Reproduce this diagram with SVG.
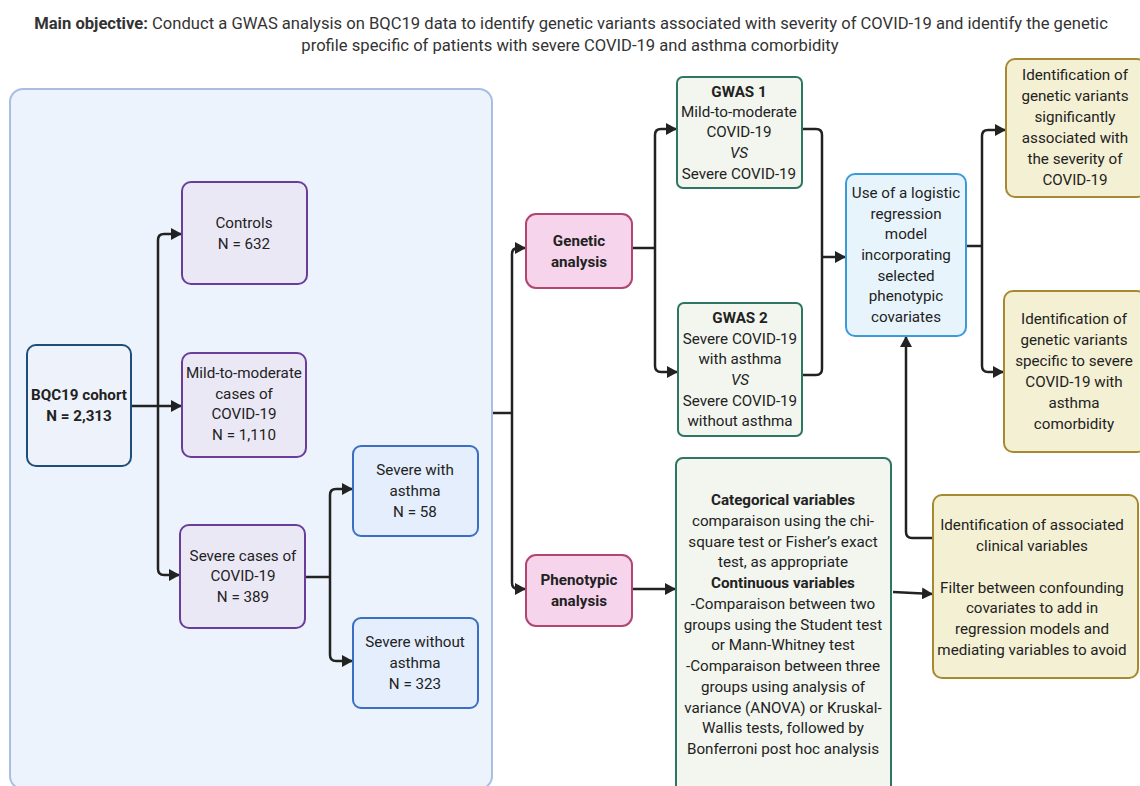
<svg xmlns="http://www.w3.org/2000/svg" width="1140" height="786" viewBox="0 0 1140 786">
<defs>
<marker id="ah" markerUnits="userSpaceOnUse" markerWidth="12" markerHeight="12" refX="11" refY="6" orient="auto">
<path d="M0,0 L11,6 L0,12 z" fill="#222"/>
</marker>
<style>
text{font-family:Roboto,"Liberation Sans",sans-serif;font-size:15.2px;fill:#222;text-anchor:middle}
.b{font-weight:bold}
.i{font-style:italic}
.title{font-size:16.6px;fill:#333}
.cont{fill:#edf3fc;stroke:#a8bee3;stroke-width:2}
.cohort{fill:#eef2fb;stroke:#1f4e79;stroke-width:2}
.purple{fill:#ebe8f6;stroke:#6a3d9a;stroke-width:2}
.blue{fill:#e4eefc;stroke:#3a6fc4;stroke-width:2}
.pink{fill:#f6d5ec;stroke:#b3466f;stroke-width:2}
.green{fill:#f2f6ef;stroke:#2e7563;stroke-width:2}
.lblue{fill:#e8f4fc;stroke:#3b9ad9;stroke-width:2}
.yellow{fill:#f4f0d3;stroke:#a58a2f;stroke-width:2}
.c{fill:none;stroke:#222;stroke-width:2.5}
.a{marker-end:url(#ah)}
</style>
</defs>
<rect width="1140" height="786" fill="#ffffff"/>
<g id="title">
<text class="title" x="571" y="29"><tspan class="b">Main objective:</tspan> Conduct a GWAS analysis on BQC19 data to identify genetic variants associated with severity of COVID-19 and identify the genetic</text>
<text class="title" x="570" y="51">profile specific of patients with severe COVID-19 and asthma comorbidity</text>
</g>
<g id="container"><rect class="cont" x="10" y="89" width="482" height="700" rx="13"/></g>
<g id="connectors">
<path class="c a" d="M131 406 H182"/>
<path class="c a" d="M158 406 V240 Q158 234 164 234 H182"/>
<path class="c a" d="M158 406 V569 Q158 575 164 575 H180"/>
<path class="c" d="M305 577 H330"/>
<path class="c a" d="M330 577 V495 Q330 489 336 489 H353"/>
<path class="c a" d="M330 577 V655 Q330 661 336 661 H353"/>
<path class="c" d="M493 413 H512"/>
<path class="c a" d="M512 413 V254 Q512 248 518 248 H526"/>
<path class="c a" d="M512 413 V583 Q512 589 518 589 H526"/>
<path class="c" d="M632 248 H655"/>
<path class="c a" d="M655 248 V135 Q655 129 661 129 H677"/>
<path class="c a" d="M655 248 V366 Q655 372 661 372 H678"/>
<path class="c" d="M802 129 H816 Q822 129 822 135 V369 Q822 375 816 375 H802"/>
<path class="c a" d="M822 257 H846"/>
<path class="c" d="M966 246 H982"/>
<path class="c a" d="M982 246 V136 Q982 130 988 130 H1006"/>
<path class="c a" d="M982 246 V366 Q982 372 988 372 H1004"/>
<path class="c a" d="M632 589 H676"/>
<path class="c a" d="M893 592 L933 594"/>
<path class="c a" d="M933 538 H912 Q906 538 906 532 V336"/>
</g>
<g id="cohort">
<rect class="cohort" x="27" y="345" width="104" height="121" rx="9"/>
<text class="b" x="79" y="400">BQC19 cohort</text>
<text class="b" x="79" y="421">N = 2,313</text>
</g>
<g id="controls">
<rect class="purple" x="182" y="182" width="125" height="102" rx="9"/>
<text x="244" y="228">Controls</text>
<text x="244" y="249">N = 632</text>
</g>
<g id="mild">
<rect class="purple" x="182" y="353" width="124" height="104" rx="9"/>
<text x="244" y="378">Mild-to-moderate</text>
<text x="244" y="399">cases of</text>
<text x="244" y="419">COVID-19</text>
<text x="244" y="440">N = 1,110</text>
</g>
<g id="severe">
<rect class="purple" x="180" y="525" width="125" height="103" rx="9"/>
<text x="243" y="561">Severe cases of</text>
<text x="243" y="581">COVID-19</text>
<text x="243" y="602">N = 389</text>
</g>
<g id="severe-asthma">
<rect class="blue" x="353" y="446" width="125" height="90" rx="8"/>
<text x="415" y="475">Severe with</text>
<text x="415" y="496">asthma</text>
<text x="415" y="517">N = 58</text>
</g>
<g id="severe-no-asthma">
<rect class="blue" x="353" y="618" width="125" height="90" rx="8"/>
<text x="415" y="647">Severe without</text>
<text x="415" y="668">asthma</text>
<text x="415" y="689">N = 323</text>
</g>
<g id="genetic">
<rect class="pink" x="526" y="214" width="106" height="74" rx="10"/>
<text class="b" x="579" y="246">Genetic</text>
<text class="b" x="579" y="267">analysis</text>
</g>
<g id="phenotypic">
<rect class="pink" x="526" y="555" width="106" height="71" rx="10"/>
<text class="b" x="579" y="585">Phenotypic</text>
<text class="b" x="579" y="606">analysis</text>
</g>
<g id="gwas1">
<rect class="green" x="677" y="77" width="125" height="111" rx="6"/>
<text class="b" x="739" y="97">GWAS 1</text>
<text x="739" y="117">Mild-to-moderate</text>
<text x="739" y="137">COVID-19</text>
<text class="i" x="739" y="158">VS</text>
<text x="739" y="179">Severe COVID-19</text>
</g>
<g id="gwas2">
<rect class="green" x="678" y="303" width="124" height="133" rx="6"/>
<text class="b" x="740" y="323">GWAS 2</text>
<text x="740" y="344">Severe COVID-19</text>
<text x="740" y="364">with asthma</text>
<text class="i" x="740" y="385">VS</text>
<text x="740" y="406">Severe COVID-19</text>
<text x="740" y="426">without asthma</text>
</g>
<g id="logistic">
<rect class="lblue" x="846" y="174" width="120" height="162" rx="9"/>
<text x="906" y="198">Use of a logistic</text>
<text x="906" y="219">regression</text>
<text x="906" y="239">model</text>
<text x="906" y="260">incorporating</text>
<text x="906" y="281">selected</text>
<text x="906" y="301">phenotypic</text>
<text x="906" y="322">covariates</text>
</g>
<g id="outcome1">
<rect class="yellow" x="1006" y="59" width="140" height="138" rx="9"/>
<text x="1075" y="80">Identification of</text>
<text x="1075" y="101">genetic  variants</text>
<text x="1075" y="122">significantly</text>
<text x="1075" y="143">associated with</text>
<text x="1075" y="164">the  severity of</text>
<text x="1075" y="185">COVID-19</text>
</g>
<g id="outcome2">
<rect class="yellow" x="1004" y="291" width="142" height="161" rx="9"/>
<text x="1074" y="324">Identification of</text>
<text x="1074" y="345">genetic  variants</text>
<text x="1074" y="366">specific to severe</text>
<text x="1074" y="387">COVID-19 with</text>
<text x="1074" y="408">asthma</text>
<text x="1074" y="429">comorbidity</text>
</g>
<g id="stats">
<rect class="green" x="676" y="458" width="215" height="340" rx="7"/>
<text class="b" x="783" y="505">Categorical variables</text>
<text x="783" y="526">comparaison using the chi-</text>
<text x="783" y="547">square test or Fisher’s exact</text>
<text x="783" y="567">test, as appropriate</text>
<text class="b" x="783" y="588">Continuous variables</text>
<text x="783" y="609">-Comparaison between two</text>
<text x="783" y="630">groups using the Student test</text>
<text x="783" y="650">or Mann-Whitney test</text>
<text x="783" y="671">-Comparaison between three</text>
<text x="783" y="692">groups using analysis of</text>
<text x="783" y="713">variance (ANOVA) or Kruskal-</text>
<text x="783" y="733">Wallis tests, followed by</text>
<text x="783" y="754">Bonferroni post hoc analysis</text>
</g>
<g id="clinical">
<rect class="yellow" x="933" y="495" width="205" height="183" rx="9"/>
<text x="1032" y="530">Identification of associated</text>
<text x="1032" y="551">clinical variables</text>
<text x="1032" y="593">Filter between confounding</text>
<text x="1032" y="613">covariates to add in</text>
<text x="1032" y="634">regression  models and</text>
<text x="1032" y="655">mediating variables  to avoid</text>
</g>
</svg>
